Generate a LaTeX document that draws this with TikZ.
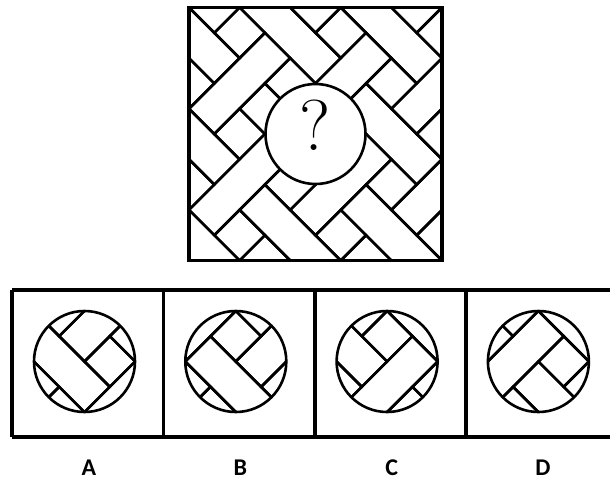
\documentclass[tikz,border=0pt]{standalone}
\usepackage{fontspec}
\newfontfamily\labelfont{Carlito}
\usetikzlibrary{positioning}

\tikzset{
  frame/.style={line width=3.6pt},
  tile/.style={line width=2.6pt,line join=miter},
  skew/.style={x={(25.3pt,-25.3pt)},y={(25.3pt,25.3pt)}},
  letter/.style={font=\labelfont\bfseries\fontsize{24}{24}\selectfont}
}
% a brick between (a1,b1) and (a2,b2) of the turned grid
\newcommand{\brick}[4]{\draw[tile] (#1,#2) -- (#3,#2) -- (#3,#4) -- (#1,#4) -- cycle;}
% one period of the weave: two squares, a long bar and a cross bar
\newcommand{\weave}{%
  \foreach \m in {-3,...,4}{
    \foreach \n in {-3,...,4}{
      \begin{scope}[shift={(2*\m+2*\n,2*\m-2*\n)}]
        \brick{1}{0}{2}{1}
        \brick{3}{0}{4}{1}
        \brick{2}{-2}{3}{1}
        \brick{1}{1}{4}{2}
      \end{scope}
    }
  }%
}

\begin{document}
\begin{tikzpicture}[x=1pt,y=-1pt]
\useasboundingbox (0,0) rectangle (610,488);

% question square
\begin{scope}
  \clip (189,7.5) rectangle (442,260.5);
  \begin{scope}[shift={(189,7.5)},skew]
    \weave
  \end{scope}
\end{scope}
\draw[frame] (189,7.5) rectangle (442,260.5);
\draw[tile,fill=white] (315.5,134) circle[radius=50pt];
\node[inner sep=0pt,font=\fontsize{72}{72}\selectfont] (qmark) at (315.5,125) {?};

% answer row
\draw[frame] (12,290) -- (610,290) (12,437) -- (610,437);
\foreach \xx in {12,163.5,315,466}
  \draw[frame] (\xx,290) -- (\xx,437);

% each answer shows the weave round another point
\foreach \lab/\cx/\pa/\pb in {A/84.5/5/0,B/235.8/4/0,C/387.1/6/0,D/538.4/3/0}{
  \begin{scope}
    \clip (\cx,361.5) circle[radius=50.5pt];
    \begin{scope}[shift={(\cx,361.5)},skew,shift={(-\pa,-\pb)}]
      \weave
    \end{scope}
  \end{scope}
  \draw[tile] (\cx,361.5) circle[radius=50.5pt];
  \node[letter] (lab\lab) at (\cx+4.5,468) {\lab};
}
\end{tikzpicture}
\end{document}
